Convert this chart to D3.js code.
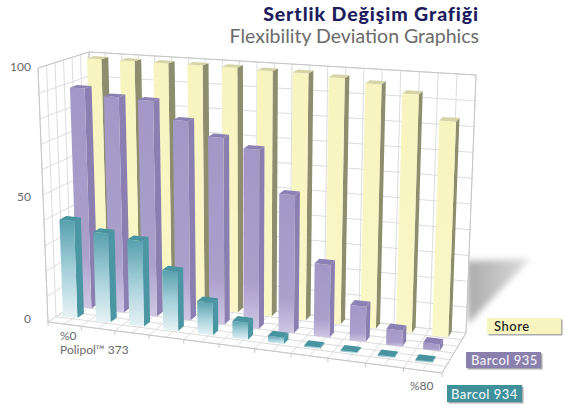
<!DOCTYPE html>
<html>
<head>
<meta charset="utf-8">
<script src="https://cdn.jsdelivr.net/npm/d3@7"></script>
<style>
  html, body { margin: 0; background: #fff; }
  text { font-family: Lato, "Noto Sans", sans-serif; }
</style>
</head>
<body>
<div id="chart"></div>
<script>
// filler share, only the first and last are labelled
const loadings = [0, 8, 16, 24, 32, 40, 48, 56, 64, 72, 80]
const shore = [98.5, 98.5, 98.5, 98.5, 98.5, 98, 98, 97, 95.5, 92.5, 83]
const barcol935 = [89, 86.5, 86, 79, 73.5, 70, 53.5, 28, 13.5, 6, 2.5]
const barcol934 = [38.5, 35, 33.5, 23, 12.5, 6.5, 2.5, 0.5, 0.5, 0.5, 0.5]
const valueTicks = [0, 50, 100]

const w = 566
const h = 405

// corners of the 3d box as seen in the picture
const box = {
    flb: [48, 322], frb: [442, 373], blb: [96, 290], brb: [466, 333],
    flt: [38, 68], frt: [452, 98], blt: [89, 52], brt: [476, 75]
}

const lerp = (a, b, t) => [a[0] + (b[0] - a[0]) * t, a[1] + (b[1] - a[1]) * t]

// small perspective squeeze along the x direction
const persp = u => 0.92 * u / (1 - 0.08 * u)

// u along the loading axis, v into the depth, z up the wall (all 0..1)
function project(u, v, z) {
    const p = persp(u)
    const bottom = lerp(lerp(box.flb, box.frb, p), lerp(box.blb, box.brb, p), v)
    const top = lerp(lerp(box.flt, box.frt, p), lerp(box.blt, box.brt, p), v)
    return lerp(bottom, top, z)
}

const xScale = d3.scaleLinear().domain([0, loadings.length - 1]).range([0.015, 0.925])
const yScale = d3.scaleLinear().domain([0, 100]).range([0, 1])
// the printed labels do not sit quite on the grid lines
const labelY = d3.scaleLinear().domain(valueTicks).range([323, 201, 71])

const barWidth = 0.04
const barDepth = 0.14

const series = [
    {name: 'Shore', values: shore, v: 0.85, face: 'url(#shoreFace)', side: '#8e8e6e', top: '#d6d4a6'},
    {name: 'Barcol 935', values: barcol935, v: 0.5, face: 'url(#purpleFace)', side: '#8a7fb0', top: '#8c81b4'},
    {name: 'Barcol 934', values: barcol934, v: 0.2, face: 'url(#tealFace)', side: '#4a96a2', top: '#47939f'}
]

const svg = d3.select('#chart')
    .append('svg')
    .attr('width', w)
    .attr('height', h)
    .style('display', 'block')

const defs = svg.append('defs')

function addGradient(id, stops) {
    const g = defs.append('linearGradient')
        .attr('id', id)
        .attr('x1', 0).attr('x2', 0).attr('y1', 0).attr('y2', 1)
    stops.forEach(s => g.append('stop').attr('offset', s[0]).attr('stop-color', s[1]))
}
addGradient('shoreFace', [[0, '#f7f4bf'], [1, '#faf7c8']])
addGradient('purpleFace', [[0, '#a297c6'], [0.75, '#ab9fcc'], [1, '#cfc7e4']])
addGradient('tealFace', [[0, '#57a0ae'], [0.5, '#a4cfd9'], [1, '#e6f3f6']])

const shadowGrad = defs.append('linearGradient').attr('id', 'shadowFade')
shadowGrad.append('stop').attr('offset', 0).attr('stop-color', '#aaa')
shadowGrad.append('stop').attr('offset', 1).attr('stop-color', '#ddd')
defs.append('filter').attr('id', 'soft')
    .attr('x', '-20%').attr('y', '-20%').attr('width', '140%').attr('height', '140%')
    .append('feGaussianBlur').attr('stdDeviation', 3)

// shadow behind the right wall
svg.append('path')
    .attr('d', 'M466,261 L530,259 L468,324 Z')
    .attr('fill', 'url(#shadowFade)')
    .attr('filter', 'url(#soft)')

// grid ------------------
const line = d3.line()
const grid = svg.append('g')
    .attr('fill', 'none')
    .attr('stroke', '#dcdcdc')
    .attr('stroke-width', 1)

const uDivs = d3.range(0, 23).map(d => d / 22)
const vDivs = d3.range(0, 7).map(d => d / 6)
const zDivs = d3.range(0, 110, 10).map(yScale)

svg.insert('path', 'g')
    .attr('d', line([project(0, 1, 0), project(1, 1, 0), project(1, 1, 1), project(0, 1, 1)]))
    .attr('fill', '#fff')

zDivs.forEach(z => {
    grid.append('path').attr('d', line([project(0, 0, z), project(0, 1, z), project(1, 1, z)]))
})
uDivs.forEach(u => {
    grid.append('path').attr('d', line([project(u, 0, 0), project(u, 1, 0), project(u, 1, 1)]))
})
vDivs.forEach(v => {
    grid.append('path').attr('d', line([project(0, v, 1), project(0, v, 0), project(1, v, 0)]))
})

// darker outline of the walls and floor
const frame = svg.append('g')
    .attr('fill', 'none')
    .attr('stroke', '#c6c6c6')
frame.append('path').attr('d', line([project(0, 1, 1), project(1, 1, 1), project(1, 1, 0), project(1, 0, 0), project(0, 0, 0), project(0, 0, 1), project(0, 1, 1), project(0, 1, 0)]))
uDivs.filter((d, i) => i % 2 == 0).forEach(u => {
    const a = project(u, 0, 0)
    frame.append('path').attr('d', line([a, [a[0], a[1] + 4]]))
})

// bars, back row first ------------------
series.forEach(s => {
    const row = svg.append('g').attr('class', 'row')
    const bars = row.selectAll('g.bar')
        .data(s.values)
        .join('g')
        .attr('class', 'bar')

    const corners = (d, i) => {
        const u0 = xScale(i)
        const u1 = u0 + barWidth
        const v0 = s.v
        const v1 = s.v + barDepth
        const z = yScale(d)
        return {u0, u1, v0, v1, z}
    }

    bars.append('path')
        .attr('fill', s.side)
        .attr('d', (d, i) => {
            const c = corners(d, i)
            return line([project(c.u1, c.v0, 0), project(c.u1, c.v1, 0), project(c.u1, c.v1, c.z), project(c.u1, c.v0, c.z)]) + 'Z'
        })

    bars.append('path')
        .attr('fill', s.face)
        .attr('d', (d, i) => {
            const c = corners(d, i)
            return line([project(c.u0, c.v0, 0), project(c.u1, c.v0, 0), project(c.u1, c.v0, c.z), project(c.u0, c.v0, c.z)]) + 'Z'
        })

    bars.append('path')
        .attr('fill', s.top)
        .attr('d', (d, i) => {
            const c = corners(d, i)
            return line([project(c.u0, c.v0, c.z), project(c.u1, c.v0, c.z), project(c.u1, c.v1, c.z), project(c.u0, c.v1, c.z)]) + 'Z'
        })
})

// value labels
svg.append('g')
    .selectAll('text')
    .data(valueTicks)
    .join('text')
    .attr('x', 31)
    .attr('y', d => labelY(d))
    .attr('text-anchor', 'end')
    .attr('font-size', 12)
    .attr('fill', '#6a6a6a')
    .text(d => d)

// loading labels
svg.append('text').attr('x', 60).attr('y', 340).attr('font-size', 12).attr('fill', '#6a6a6a')
    .text('%' + loadings[0])
svg.append('text').attr('x', 60).attr('y', 354).attr('font-size', 12).attr('fill', '#6a6a6a')
    .text('Polipol™ 373')
svg.append('text').attr('x', 410).attr('y', 390).attr('font-size', 12).attr('fill', '#6a6a6a')
    .text('%' + loadings[loadings.length - 1])

// titles
svg.append('text').attr('x', 479).attr('y', 21).attr('text-anchor', 'end')
    .attr('font-size', 19.5).attr('font-weight', 900).attr('letter-spacing', 0.9).attr('fill', '#1c1c5e')
    .text('Sertlik Değişim Grafiği')
svg.append('text').attr('x', 479).attr('y', 43).attr('text-anchor', 'end')
    .attr('font-size', 19.5).attr('fill', '#6b6b6b')
    .text('Flexibility Deviation Graphics')

// legend labels
const legendBoxes = [
    {label: 'Shore', x: 487, y: 318, w: 74, h: 16, fill: '#f7f4bf', color: '#222', tx: 494},
    {label: 'Barcol 935', x: 466, y: 352, w: 75, h: 16, fill: '#8a80ad', color: '#f2f0fa', tx: 471},
    {label: 'Barcol 934', x: 447, y: 385, w: 75, h: 17, fill: '#3f909b', color: '#eef8fa', tx: 451}
]
const legend = svg.append('g')
legend.selectAll('rect.drop')
    .data(legendBoxes)
    .join('rect')
    .attr('class', 'drop')
    .attr('x', d => d.x + 1.5).attr('y', d => d.y + 1.5)
    .attr('width', d => d.w).attr('height', d => d.h)
    .attr('fill', '#aaa')
legend.selectAll('rect.box')
    .data(legendBoxes)
    .join('rect')
    .attr('class', 'box')
    .attr('x', d => d.x).attr('y', d => d.y)
    .attr('width', d => d.w).attr('height', d => d.h)
    .attr('fill', d => d.fill)
legend.selectAll('text')
    .data(legendBoxes)
    .join('text')
    .attr('x', d => d.tx)
    .attr('y', d => d.y + d.h - 3.5)
    .attr('font-size', 13)
    .attr('font-weight', 500)
    .attr('letter-spacing', 0.5)
    .attr('fill', d => d.color)
    .text(d => d.label)
</script>
</body>
</html>
